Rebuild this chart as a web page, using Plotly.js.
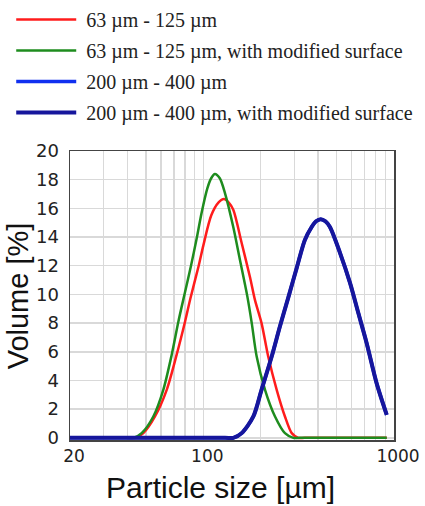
<!DOCTYPE html>
<html>
<head>
<meta charset="utf-8">
<script src="https://cdn.plot.ly/plotly-3.0.1.min.js"></script>
<style>
html,body{margin:0;padding:0;background:#fff;}
#chart{width:425px;height:506px;}
</style>
</head>
<body>
<div id="chart"></div>
<script>
// Series names (legend labels)
const seriesNames = [
  "63 µm - 125 µm",
  "63 µm - 125 µm, with modified surface",
  "200 µm - 400 µm",
  "200 µm - 400 µm, with modified surface"
];
const xTitle = "Particle size [µm]";
const yTitle = "Volume [%]";

// 63-125 µm
const redX = [20, 40, 44, 48.5, 55.8, 64.3, 72.5, 80.2, 85.5, 94.6, 100, 110, 120, 128.4, 136, 143.6, 158.8, 175.8, 186.7, 202, 219, 242.6, 268, 290.8, 315, 340, 916];
const redY = [0, 0, 0, 0.33, 1.49, 3.35, 5.8, 8.1, 9.7, 12.0, 13.4, 15.5, 16.4, 16.65, 16.4, 15.9, 13.6, 11.2, 9.6, 8.0, 5.67, 3.35, 1.49, 0.33, 0, 0, 0];

// 63-125 µm, modified surface
const greenX = [20, 39, 43, 47.5, 54.7, 61.7, 68.3, 74, 80, 86.2, 92.3, 98, 105, 110, 115, 122, 130, 143.6, 155.7, 170, 179.5, 190.5, 210.7, 237.7, 268, 296.6, 320, 916];
const greenY = [0, 0, 0, 0.33, 1.49, 3.35, 5.8, 8.1, 10.1, 12.0, 13.9, 15.7, 17.4, 18.1, 18.4, 18.1, 17.05, 14.7, 12.4, 9.9, 8.0, 5.67, 3.35, 1.49, 0.33, 0, 0, 0];

// 200-400 µm (hidden under the modified-surface curve)
const blueX = [20, 130, 143.6, 159, 183, 202, 228.4, 252.6, 280, 309, 341, 370, 390, 413, 437, 461.6, 521, 588, 650, 719, 811, 916];
const blueY = [0, 0, 0, 0.33, 1.49, 3.35, 5.67, 7.8, 9.85, 11.85, 13.8, 14.7, 15.1, 15.25, 15.1, 14.7, 12.9, 10.8, 8.7, 6.6, 3.8, 1.6];

// 200-400 µm, modified surface
const navyX = [20, 130, 143.6, 159, 183, 202, 228.4, 252.6, 280, 309, 341, 370, 390, 413, 437, 461.6, 521, 588, 650, 719, 811, 916];
const navyY = [0, 0, 0, 0.33, 1.49, 3.35, 5.67, 7.8, 9.85, 11.85, 13.8, 14.7, 15.1, 15.25, 15.1, 14.7, 12.9, 10.8, 8.7, 6.6, 3.8, 1.6];

// Axis ticks
const xTickVals = [20, 100, 1000];
const xTickText = ["20", "100", "1000"];
const xMinorVals = [30, 40, 50, 60, 70, 80, 90, 200, 300, 400, 500, 600, 700, 800, 900];
const yTickVals = [0, 2, 4, 6, 8, 10, 12, 14, 16, 18, 20];

const colors = ["#ff1c1c", "#1e8c1e", "#1030f0", "#16169c"];
const widths = [2.5, 2.5, 3.5, 4];

const xs = [redX, greenX, blueX, navyX];
const ys = [redY, greenY, blueY, navyY];

const traces = seriesNames.map((name, i) => ({
  type: "scatter",
  mode: "lines",
  name: "\u00a0" + name,
  x: xs[i],
  y: ys[i],
  line: {color: colors[i], width: widths[i], shape: "spline", smoothing: 0.8},
  legendgroup: "g" + i
}));

const layout = {
  width: 425,
  height: 506,
  margin: {l: 70, r: 31, t: 151, b: 66, autoexpand: false},
  paper_bgcolor: "#ffffff",
  plot_bgcolor: "#ffffff",
  showlegend: true,
  legend: {
    xref: "container", yref: "container",
    x: 0.0264, xanchor: "left",
    y: 1.012, yanchor: "top",
    font: {family: "Liberation Serif", size: 20, color: "#222"},
    bgcolor: "rgba(0,0,0,0)",
    borderwidth: 0,
    itemwidth: 60,
    traceorder: "grouped",
    tracegroupgap: 2
  },
  xaxis: {
    type: "log",
    range: [Math.log10(20), Math.log10(1000)],
    tickvals: xTickVals,
    ticktext: xTickText,
    ticks: "",
    ticklabelshift: 4,
    tickfont: {family: "DejaVu Sans", size: 17, color: "#222"},
    showgrid: true,
    gridcolor: "#d9d9d9",
    gridwidth: 1.5,
    minor: {tickvals: xMinorVals, showgrid: true, gridcolor: "#d9d9d9", gridwidth: 1.5, ticks: ""},
    showline: true,
    linecolor: "#444",
    linewidth: 1.5,
    mirror: true,
    zeroline: false,
    layer: "below traces"
  },
  yaxis: {
    range: [-0.15, 20],
    tickvals: yTickVals,
    ticks: "outside",
    ticklen: 6,
    tickcolor: "rgba(0,0,0,0)",
    tickfont: {family: "DejaVu Sans", size: 18, color: "#222"},
    showgrid: true,
    gridcolor: "#d9d9d9",
    gridwidth: 1.5,
    showline: true,
    linecolor: "#444",
    linewidth: 1.5,
    mirror: true,
    zeroline: false,
    layer: "below traces"
  },
  annotations: [
    {text: xTitle, xref: "paper", yref: "paper", x: 0.463, y: -0.164, xanchor: "center", yanchor: "middle",
     showarrow: false, font: {family: "Liberation Sans", size: 30, color: "#111"}},
    {text: yTitle, xref: "paper", yref: "paper", x: -0.161, y: 0.5, xanchor: "center", yanchor: "middle",
     textangle: -90, showarrow: false, font: {family: "Liberation Sans", size: 29, color: "#111"}}
  ]
};

Plotly.newPlot("chart", traces, layout, {displayModeBar: false, staticPlot: true});
</script>
</body>
</html>
